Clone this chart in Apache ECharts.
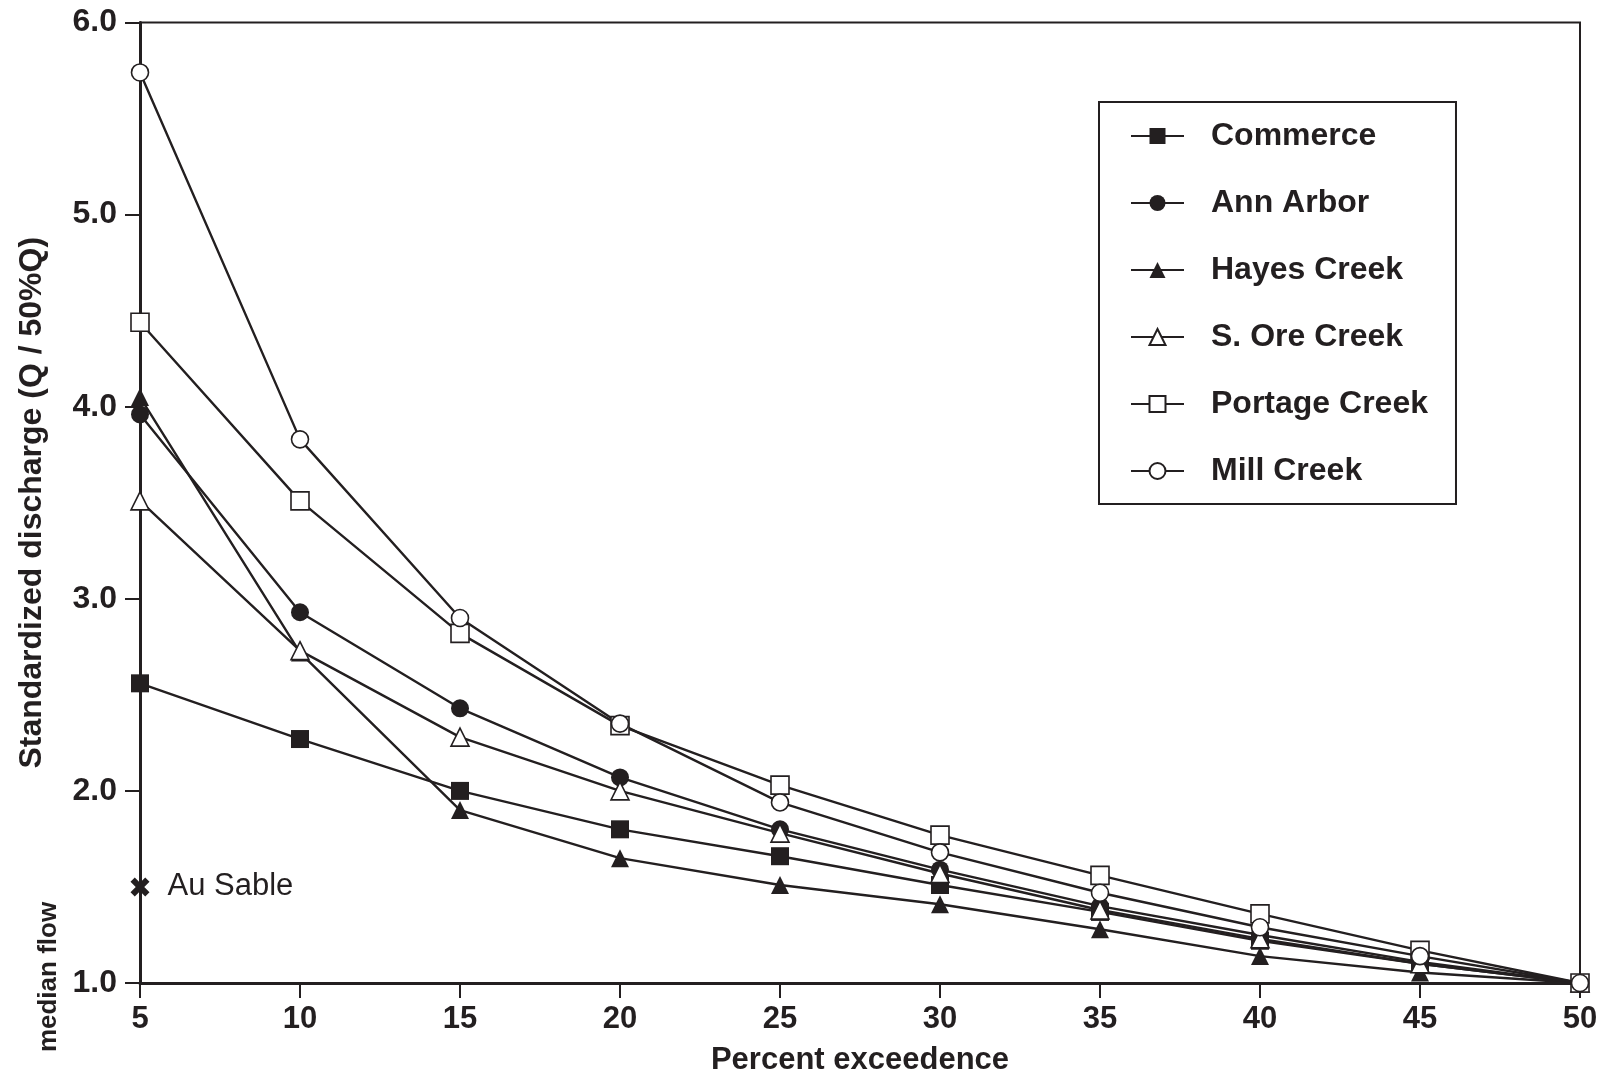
<!DOCTYPE html>
<html>
<head>
<meta charset="utf-8">
<script src="https://cdn.jsdelivr.net/npm/echarts@6/dist/echarts.min.js"></script>
<style>
html,body{margin:0;padding:0;background:#fff;}
#chart{width:1606px;height:1077px;}
</style>
</head>
<body>
<div id="chart"></div>
<script>
// ---- data ----
var percentExceedence = [5, 10, 15, 20, 25, 30, 35, 40, 45, 50];
var commerce  = [2.56, 2.27, 2.00, 1.80, 1.66, 1.51, 1.37, 1.22, 1.10, 1.00];
var annArbor  = [3.96, 2.93, 2.43, 2.07, 1.80, 1.59, 1.40, 1.25, 1.11, 1.00];
var hayesCreek= [4.05, 2.72, 1.90, 1.65, 1.51, 1.41, 1.28, 1.14, 1.055, 1.00];
var sOreCreek = [3.51, 2.73, 2.28, 2.00, 1.78, 1.57, 1.38, 1.23, 1.10, 1.00];
var portageCreek = [4.44, 3.51, 2.82, 2.34, 2.03, 1.77, 1.56, 1.36, 1.17, 1.00];
var millCreek = [5.74, 3.83, 2.90, 2.35, 1.94, 1.68, 1.47, 1.29, 1.14, 1.00];
var auSable = [[5, 1.50]];
var seriesNames = ['Commerce', 'Ann Arbor', 'Hayes Creek', 'S. Ore Creek', 'Portage Creek', 'Mill Creek'];
var xTicks = {min: 5, max: 50, interval: 5};
var yTicks = {min: 1, max: 6, interval: 1};

var INK = '#231f20';
var FONT = '"Liberation Sans", Arial, Helvetica, sans-serif';

function pairs(vals) {
  return percentExceedence.map(function (x, i) { return [x, vals[i]]; });
}

function lineSeries(name, vals, symbol, filled, size) {
  return {
    name: name,
    type: 'line',
    data: pairs(vals),
    symbol: symbol,
    symbolSize: size,
    showAllSymbol: true,
    lineStyle: {color: INK, width: 2.4},
    itemStyle: {
      color: filled ? INK : '#ffffff',
      borderColor: INK,
      borderWidth: filled ? 0 : 1.6,
      opacity: 1
    },
    emphasis: {disabled: true},
    animation: false
  };
}

var chart = echarts.init(document.getElementById('chart'), null, {renderer: 'canvas'});

var option = {
  backgroundColor: '#ffffff',
  animation: false,
  grid: {
    left: 140, right: 26, top: 22.5, bottom: 94,
    outerBoundsMode: 'none',
    containLabel: false,
    show: true, borderColor: INK, borderWidth: 2, backgroundColor: 'transparent'
  },
  legend: {
    orient: 'vertical',
    left: 1099, top: 102,
    data: seriesNames,
    padding: [17, 28, 16, 31],
    itemWidth: 53, itemHeight: 20,
    itemGap: 33,
    borderColor: INK, borderWidth: 2,
    backgroundColor: '#ffffff',
    selectedMode: false,
    textStyle: {
      color: INK, fontFamily: FONT, fontWeight: 'bold', fontSize: 32,
      lineHeight: 34, padding: [0, 0, 0, 22]
    }
  },
  xAxis: {
    type: 'value',
    min: xTicks.min, max: xTicks.max, interval: xTicks.interval,
    name: 'Percent exceedence',
    nameLocation: 'middle',
    nameGap: 59,
    nameTextStyle: {color: INK, fontFamily: FONT, fontWeight: 'bold', fontSize: 31, lineHeight: 36},
    axisLine: {show: true, lineStyle: {color: INK, width: 3}},
    axisTick: {show: true, inside: false, length: 15, lineStyle: {color: INK, width: 2}},
    axisLabel: {color: INK, fontFamily: FONT, fontWeight: 'bold', fontSize: 31, margin: 21, lineHeight: 31},
    splitLine: {show: false}
  },
  yAxis: {
    type: 'value',
    min: yTicks.min, max: yTicks.max, interval: yTicks.interval,
    name: 'Standardized discharge (Q / 50%Q)',
    nameLocation: 'middle',
    nameGap: 90,
    nameTextStyle: {color: INK, fontFamily: FONT, fontWeight: 'bold', fontSize: 32, lineHeight: 36},
    axisLine: {show: true, lineStyle: {color: INK, width: 3}},
    axisTick: {show: true, inside: false, length: 15, lineStyle: {color: INK, width: 2}},
    axisLabel: {
      color: INK, fontFamily: FONT, fontWeight: 'bold', fontSize: 32, margin: 23,
      formatter: function (v) { return v.toFixed(1); }
    },
    splitLine: {show: false}
  },
  graphic: [{
    type: 'text',
    x: 49, y: 977,
    rotation: Math.PI / 2,
    style: {
      text: 'median flow',
      fill: INK,
      font: 'bold 26px ' + FONT,
      textAlign: 'center',
      textVerticalAlign: 'middle'
    },
    silent: true
  }],
  series: [
    lineSeries(seriesNames[0], commerce, 'rect', true, 18),
    lineSeries(seriesNames[1], annArbor, 'circle', true, 18),
    lineSeries(seriesNames[2], hayesCreek, 'triangle', true, 18),
    lineSeries(seriesNames[3], sOreCreek, 'triangle', false, 18),
    lineSeries(seriesNames[4], portageCreek, 'rect', false, 18),
    lineSeries(seriesNames[5], millCreek, 'circle', false, 17),
    {
      name: 'Au Sable',
      type: 'scatter',
      data: auSable,
      symbol: 'path://M4.5,0 L10,5.5 L15.5,0 L20,4.5 L14.5,10 L20,15.5 L15.5,20 L10,14.5 L4.5,20 L0,15.5 L5.5,10 L0,4.5 Z',
      symbolSize: 19,
      itemStyle: {color: INK, opacity: 1},
      label: {
        show: true, position: 'right', distance: 18,
        formatter: 'Au Sable',
        color: INK, fontFamily: FONT, fontWeight: 'normal', fontSize: 31, opacity: 1
      },
      emphasis: {disabled: true},
      z: 5
    }
  ]
};

chart.setOption(option);
</script>
</body>
</html>
